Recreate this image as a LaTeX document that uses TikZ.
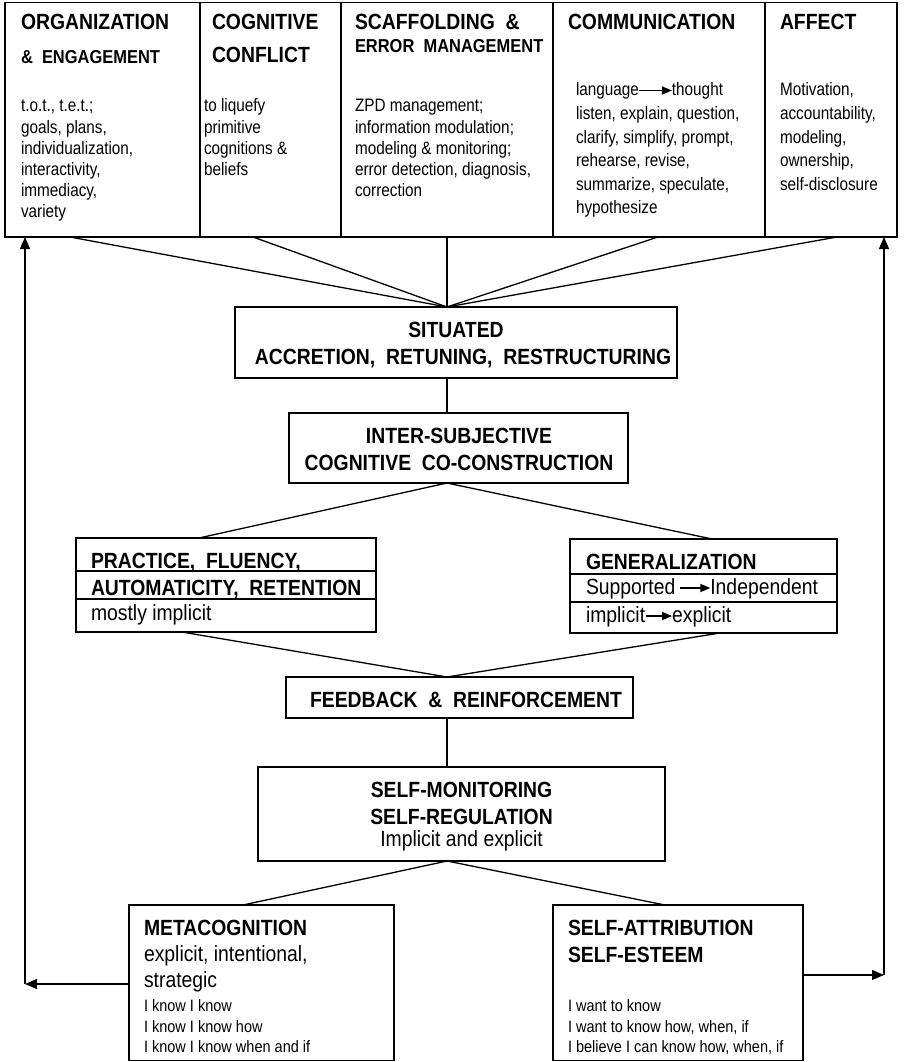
\documentclass[tikz,border=0pt]{standalone}
\usepackage{fontspec}
\setmainfont{Liberation Sans}[FakeStretch=0.88]
\newfontfamily\bodyfont{Liberation Sans}[FakeStretch=0.85]
\usetikzlibrary{arrows.meta,calc}
\begin{document}
\begin{tikzpicture}[x=1pt,y=-1pt,
  box/.style={draw, line width=1.4pt, inner sep=0pt, outer sep=0pt},
  conn/.style={line width=1.3pt},
  arr/.style={line width=1.3pt, -{Triangle[length=12pt,width=10pt]}},
  tarr/.style={line width=1.4pt, -{Triangle[length=10pt,width=8pt]}},
  tl/.style={inner sep=0pt, outer sep=0pt, anchor=base west},
  tc/.style={inner sep=0pt, outer sep=0pt, anchor=base},
  hd/.style={font=\fontsize{22}{22}\selectfont\bfseries},
  sh/.style={font=\fontsize{18.7}{18.7}\selectfont\bfseries},
  bd/.style={font=\bodyfont\fontsize{18}{18}\selectfont},
  md/.style={font=\fontsize{22}{22}\selectfont},
  sm/.style={font=\fontsize{16.5}{16.5}\selectfont}]
\useasboundingbox (0,0) rectangle (903,1062);
\coordinate (ax) at (447,0);
\coordinate (lc) at (25,0);
\coordinate (rc) at (884,0);

% top row
\node[box, minimum width=195pt, minimum height=234.5pt] (org) at (102.5,119.75) {};
\node[box, minimum width=141pt, minimum height=234.5pt] (cog) at (270.5,119.75) {};
\node[box, minimum width=212pt, minimum height=234.5pt] (scaf) at (447,119.75) {};
\node[box, minimum width=212pt, minimum height=234.5pt] (comm) at (659,119.75) {};
\node[box, minimum width=132pt, minimum height=234.5pt] (aff) at (831,119.75) {};

\node[tl,hd] (orgA) at (21,30) {ORGANIZATION};
\node[tl,sh] (orgB) at (21,64) {\&~~ENGAGEMENT};
\node[tl,bd] (org1) at (21,112) {t.o.t., t.e.t.;};
\node[tl,bd] (org2) at (21,133) {goals, plans,};
\node[tl,bd] (org3) at (21,154) {individualization,};
\node[tl,bd] (org4) at (21,175) {interactivity,};
\node[tl,bd] (org5) at (21,196) {immediacy,};
\node[tl,bd] (org6) at (21,217) {variety};

\node[tl,hd] (cogA) at (212,30) {COGNITIVE};
\node[tl,hd] (cogB) at (212,63) {CONFLICT};
\node[tl,bd] (cog1) at (204,112) {to liquefy};
\node[tl,bd] (cog2) at (204,133) {primitive};
\node[tl,bd] (cog3) at (204,154) {cognitions \&};
\node[tl,bd] (cog4) at (204,175) {beliefs};

\node[tl,hd] (scafA) at (355,30) {SCAFFOLDING~~\&};
\node[tl,sh] (scafB) at (355,53) {ERROR~~MANAGEMENT};
\node[tl,bd] (scaf1) at (355,112) {ZPD management;};
\node[tl,bd] (scaf2) at (355,133) {information modulation;};
\node[tl,bd] (scaf3) at (355,154) {modeling \& monitoring;};
\node[tl,bd] (scaf4) at (355,175) {error detection, diagnosis,};
\node[tl,bd] (scaf5) at (355,196) {correction};

\node[tl,hd] (commA) at (568,30) {COMMUNICATION};
\node[tl,bd] (comm1a) at (576,96) {language};
\node[bd,inner sep=0pt,outer sep=0pt,anchor=base west] (comm1b) at ([xshift=33pt]comm1a.base east) {thought};
\draw[tarr] ($(comm1a.base east)+(0.5,-5.5)$) -- ($(comm1b.base west)+(0,-5.5)$);
\node[tl,bd] (comm2) at (576,119.5) {listen, explain, question,};
\node[tl,bd] (comm3) at (576,143) {clarify, simplify, prompt,};
\node[tl,bd] (comm4) at (576,166.5) {rehearse, revise,};
\node[tl,bd] (comm5) at (576,190) {summarize, speculate,};
\node[tl,bd] (comm6) at (576,213.5) {hypothesize};

\node[tl,hd] (affA) at (780,30) {AFFECT};
\node[tl,bd] (aff1) at (780,96) {Motivation,};
\node[tl,bd] (aff2) at (780,119.5) {accountability,};
\node[tl,bd] (aff3) at (780,143) {modeling,};
\node[tl,bd] (aff4) at (780,166.5) {ownership,};
\node[tl,bd] (aff5) at (780,190) {self-disclosure};

% middle boxes
\node[box, minimum width=442pt, minimum height=71pt] (sit) at (456,342.5) {};
\node[tc,hd] (sitA) at (456,337) {SITUATED};
\node[tc,hd] (sitB) at (463,364) {ACCRETION,~~RETUNING,~~RESTRUCTURING};

\node[box, minimum width=339pt, minimum height=70pt] (inter) at (458.5,448) {};
\node[tc,hd] (interA) at (459,443) {INTER-SUBJECTIVE};
\node[tc,hd] (interB) at (459,470) {COGNITIVE~~CO-CONSTRUCTION};

\node[box, minimum width=300pt, minimum height=94pt] (prac) at (226,585) {};
\draw[line width=1.4pt] ($(prac.north west)+(0,33)$) -- ($(prac.north east)+(0,33)$);
\draw[line width=1.4pt] ($(prac.north west)+(0,61)$) -- ($(prac.north east)+(0,61)$);
\node[tl,hd] (pracA) at (91,568) {PRACTICE,~~FLUENCY,};
\node[tl,hd] (pracB) at (91,595) {AUTOMATICITY,~~RETENTION};
\node[tl,md] (pracC) at (91,620) {mostly implicit};

\node[box, minimum width=267pt, minimum height=94pt] (gen) at (703.5,586) {};
\draw[line width=1.4pt] ($(gen.north west)+(0,35)$) -- ($(gen.north east)+(0,35)$);
\draw[line width=1.4pt] ($(gen.north west)+(0,63)$) -- ($(gen.north east)+(0,63)$);
\node[tl,hd] (genA) at (586,569) {GENERALIZATION};
\node[tl,md] (gen1a) at (586,594) {Supported};
\node[md,inner sep=0pt,outer sep=0pt,anchor=base west] (gen1b) at ([xshift=35pt]gen1a.base east) {Independent};
\draw[tarr] ($(gen1a.base east)+(5,-6)$) -- ($(gen1b.base west)+(0,-6)$);
\node[tl,md] (gen2a) at (586,622) {implicit};
\node[md,inner sep=0pt,outer sep=0pt,anchor=base west] (gen2b) at ([xshift=27pt]gen2a.base east) {explicit};
\draw[tarr] ($(gen2a.base east)+(0.5,-6)$) -- ($(gen2b.base west)+(0,-6)$);

\node[box, minimum width=347pt, minimum height=41pt] (feed) at (459.5,697.5) {};
\node[tc,hd] (feedA) at (466,707) {FEEDBACK~~\&~~REINFORCEMENT};

\node[box, minimum width=407pt, minimum height=94pt] (smon) at (461.5,814) {};
\node[tc,hd] (smonA) at (461.5,797) {SELF-MONITORING};
\node[tc,hd] (smonB) at (461.5,824) {SELF-REGULATION};
\node[tc,md] (smonC) at (461.5,846) {Implicit and explicit};

\node[box, minimum width=265pt, minimum height=155.5pt] (meta) at (261.5,982.75) {};
\node[tl,hd] (metaA) at (144,935) {METACOGNITION};
\node[tl,md] (metaB) at (144,961) {explicit, intentional,};
\node[tl,md] (metaC) at (144,987) {strategic};
\node[tl,sm] (meta1) at (144,1011) {I know I know};
\node[tl,sm] (meta2) at (144,1032) {I know I know how};
\node[tl,sm] (meta3) at (144,1052) {I know I know when and if};

\node[box, minimum width=250pt, minimum height=155.5pt] (satt) at (678,982.75) {};
\node[tl,hd] (sattA) at (568,935) {SELF-ATTRIBUTION};
\node[tl,hd] (sattB) at (568,962) {SELF-ESTEEM};
\node[tl,sm] (satt1) at (568,1011) {I want to know};
\node[tl,sm] (satt2) at (568,1032) {I want to know how, when, if};
\node[tl,sm] (satt3) at (568,1052) {I believe I can know how, when, if};

% connectors
\draw[conn] ($(org.south west)!0.333!(org.south east)$) -- (ax |- sit.north);
\draw[conn] ($(cog.south west)!0.376!(cog.south east)$) -- (ax |- sit.north);
\draw[conn] (ax |- scaf.south) -- (ax |- sit.north);
\draw[conn] ($(comm.south west)!0.495!(comm.south east)$) -- (ax |- sit.north);
\draw[conn] ($(aff.south west)!0.545!(aff.south east)$) -- (ax |- sit.north);
\draw[conn] (ax |- sit.south) -- (ax |- inter.north);
\draw[conn] (ax |- inter.south) -- ($(prac.north west)!0.41!(prac.north east)$);
\draw[conn] (ax |- inter.south) -- ($(gen.north west)!0.532!(gen.north east)$);
\draw[conn] ($(prac.south west)!0.353!(prac.south east)$) -- (ax |- feed.north);
\draw[conn] ($(gen.south west)!0.562!(gen.south east)$) -- (ax |- feed.north);
\draw[conn] (ax |- feed.south) -- (ax |- smon.north);
\draw[conn] (ax |- smon.south) -- ($(meta.north west)!0.43!(meta.north east)$);
\draw[conn] (ax |- smon.south) -- ($(satt.north west)!0.448!(satt.north east)$);

\coordinate (metaW) at ($(meta.north west)!0.508!(meta.south west)$);
\coordinate (sattE) at ($(satt.north east)!0.45!(satt.south east)$);
\draw[arr] (metaW) -- (metaW -| lc);
\draw[arr] (metaW -| lc) -- (lc |- org.south);
\draw[arr] (sattE) -- (sattE -| rc);
\draw[arr] (sattE -| rc) -- (rc |- aff.south);
\end{tikzpicture}
\end{document}
